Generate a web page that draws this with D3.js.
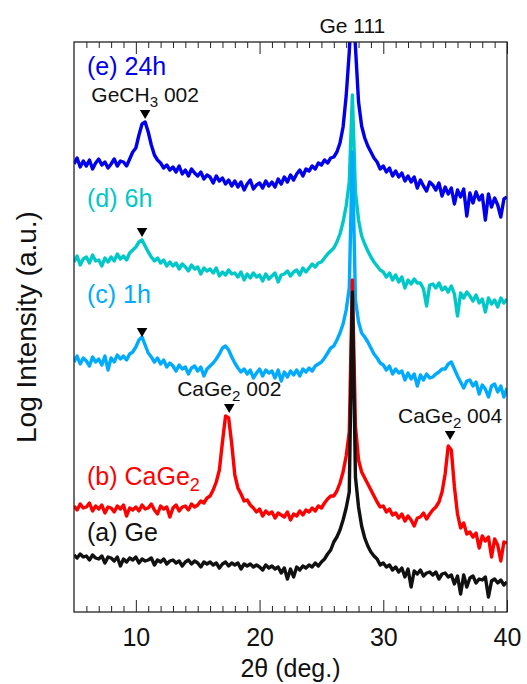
<!DOCTYPE html>
<html>
<head>
<meta charset="utf-8">
<script src="https://cdn.jsdelivr.net/npm/d3@7"></script>
<style>
    body { margin: 0; background: #fff; }
    svg { font-family: 'Liberation Sans', Arial, sans-serif; }
    text { white-space: pre; }
</style>
</head>
<body>
<div id="chart"></div>
<script>
// Data
// 2theta grid, 5-40 deg in 0.25 deg steps
const twoTheta = d3.range(5, 40.001, 0.25)

// log intensity (a.u., traces offset), one value per grid point
const ge = [
    5.7, 5.4, 5.8, 5.5, 5.6, 5.2, 5.7, 5.4, 5.3, 5.6, 4.9, 5.5, 5.4, 5.1, 5.5, 4.6,
    5.3, 5.0, 5.4, 5.2, 5.5, 4.9, 5.3, 5.1, 5.2, 5.4, 4.7, 5.2, 5.0, 5.3, 4.8, 5.1,
    5.2, 4.9, 5.1, 4.6, 5.0, 5.2, 4.8, 5.1, 4.9, 4.5, 5.0, 4.8, 5.0, 4.7, 4.9, 4.4,
    4.8, 5.0, 4.6, 4.9, 4.7, 4.9, 4.3, 4.8, 4.6, 4.8, 4.5, 4.7, 4.5, 4.2, 4.7, 4.4,
    4.6, 4.3, 4.5, 3.9, 4.4, 3.3, 4.3, 3.5, 4.5, 4.2, 4.6, 4.4, 4.7, 4.5, 4.9, 4.6,
    5.0, 5.3, 5.8, 6.2, 7.0, 7.5, 8.2, 9.2, 10.4, 12.0, 32.0, 13.5, 10.5, 8.6, 7.4, 6.6,
    6.0, 5.6, 5.3, 4.7, 4.9, 4.5, 4.7, 4.2, 4.5, 4.0, 4.4, 3.5, 4.3, 2.5, 4.1, 3.8,
    4.2, 3.6, 3.9, 4.0, 3.7, 4.0, 3.3, 3.8, 3.9, 3.5, 3.7, 2.8, 3.6, 1.8, 3.7, 2.5,
    3.4, 3.6, 2.9, 3.3, 3.2, 3.5, 1.5, 3.1, 3.3, 2.9, 3.2, 2.7, 3.0
]
const caGe2 = [
    10.6, 10.2, 10.8, 10.4, 10.5, 10.9, 10.1, 10.6, 10.3, 10.7, 9.9, 10.5, 10.4, 10.0, 10.6, 10.3,
    10.7, 9.6, 10.4, 10.2, 10.5, 10.1, 10.7, 10.3, 10.4, 10.8, 10.2, 9.8, 10.6, 10.3, 10.5, 9.5,
    10.4, 10.7, 10.1, 10.5, 10.6, 10.2, 10.8, 10.5, 10.7, 11.1, 10.9, 11.4, 11.6, 12.2, 13.0, 14.2,
    17.0, 19.6, 19.4, 16.8, 13.7, 12.4, 11.8, 11.1, 11.2, 10.7, 10.4, 10.0, 10.3, 9.6, 10.1, 9.8,
    10.0, 9.4, 9.9, 9.7, 9.5, 10.0, 9.2, 9.8, 9.6, 10.1, 9.7, 10.2, 10.0, 10.4, 10.1, 10.6,
    10.4, 10.9, 11.3, 11.6, 11.6, 12.1, 12.9, 14.0, 15.6, 18.0, 33.2, 18.6, 15.2, 14.0, 13.4, 12.8,
    12.2, 11.6, 11.0, 10.5, 10.6, 10.0, 10.3, 9.7, 9.9, 9.4, 9.8, 9.1, 9.6, 9.2, 8.6, 9.4,
    9.5, 9.9, 9.3, 9.8, 10.2, 10.5, 11.0, 12.0, 13.8, 16.6, 16.2, 12.5, 9.8, 8.4, 8.9, 7.8,
    8.0, 7.5, 7.9, 6.4, 7.6, 7.1, 7.5, 5.5, 7.3, 6.7, 5.1, 7.0, 6.9
]
const h1 = [
    25.0, 25.6, 24.8, 25.4, 25.1, 24.6, 25.5, 25.0, 25.3, 24.7, 25.6, 24.2, 25.4, 25.0, 25.7, 25.3,
    25.6, 25.2, 25.8, 26.0, 26.5, 27.2, 27.5, 26.7, 25.9, 25.5, 25.0, 25.4, 24.8, 25.2, 24.5, 24.9,
    24.6, 24.1, 24.7, 24.3, 24.5, 23.8, 24.4, 24.6, 24.1, 24.5, 23.6, 24.3, 24.6, 24.9, 25.3, 25.8,
    26.4, 26.6, 26.2, 25.5, 24.9, 24.4, 24.0, 24.3, 23.8, 24.2, 23.4, 23.9, 24.3, 23.6, 24.2, 23.9,
    24.1, 23.4, 24.2, 23.1, 24.0, 23.5, 24.1, 23.7, 24.2, 23.6, 24.3, 24.0, 24.4, 24.1, 24.6, 24.8,
    25.0, 25.4, 25.9, 26.4, 26.6, 27.2, 27.9, 28.8, 30.2, 32.4, 46.0, 31.2, 29.0, 27.9, 27.5, 27.0,
    26.4, 25.8, 25.4, 24.9, 24.7, 24.2, 24.6, 23.8, 24.3, 23.9, 24.1, 23.2, 23.9, 23.3, 23.8, 22.6,
    23.7, 23.2, 23.8, 23.4, 23.5, 23.8, 24.0, 24.3, 24.3, 24.8, 25.0, 24.3, 23.6, 23.0, 22.4, 23.1,
    23.2, 22.6, 23.0, 21.8, 22.7, 22.3, 21.5, 22.6, 22.8, 22.0, 22.6, 21.5, 22.4
]
const h6 = [
    35.0, 35.6, 34.7, 35.3, 35.5, 34.9, 35.7, 35.1, 35.2, 34.6, 35.4, 35.0, 35.5, 35.1, 35.8, 35.3,
    35.6, 35.2, 35.9, 36.2, 36.5, 37.0, 37.2, 36.6, 36.0, 35.5, 35.1, 35.4, 34.9, 35.2, 34.6, 35.0,
    34.6, 34.9, 34.3, 34.8, 34.5, 34.1, 34.7, 34.3, 34.5, 33.8, 34.4, 34.1, 34.3, 33.9, 34.4, 33.6,
    34.0, 33.7, 34.2, 33.8, 33.9, 33.5, 34.0, 33.2, 33.8, 33.4, 33.9, 33.5, 33.7, 33.1, 33.8, 33.3,
    33.6, 33.9, 33.0, 33.7, 33.8, 34.1, 33.6, 34.0, 34.2, 33.7, 34.4, 34.0, 34.4, 34.8, 34.5, 34.9,
    35.0, 35.4, 35.8, 36.1, 36.4, 37.0, 37.8, 39.0, 40.6, 43.0, 51.7, 42.0, 39.2, 37.6, 36.8, 36.1,
    35.5, 35.0, 34.6, 34.2, 34.0, 33.5, 33.9, 33.2, 33.7, 33.0, 33.5, 32.4, 33.2, 32.8, 33.3, 32.9,
    32.9, 32.3, 30.6, 32.7, 32.8, 32.4, 32.9, 32.2, 32.5, 32.0, 32.6, 31.8, 29.6, 31.9, 31.4, 32.0,
    31.6, 31.1, 31.7, 30.9, 31.3, 30.0, 31.4, 30.8, 31.2, 30.5, 31.4, 30.9, 31.3
]
const h24 = [
    44.8, 45.4, 44.5, 45.1, 44.6, 45.2, 44.3, 44.9, 45.3, 44.7, 45.0, 44.4, 44.8, 45.3, 44.6, 45.1,
    45.0, 44.6, 45.3, 46.0, 46.4, 47.7, 48.8, 49.0, 48.0, 46.7, 45.7, 45.2, 44.9, 44.4, 44.7, 44.2,
    44.5, 44.0, 44.6, 43.8, 44.2, 43.6, 44.3, 43.9, 43.6, 44.0, 43.3, 43.7, 43.5, 42.9, 43.6, 43.1,
    43.4, 42.8, 43.2, 42.6, 43.1, 42.5, 43.0, 42.2, 42.8, 43.2, 42.3, 42.7, 42.9, 42.4, 43.1, 42.6,
    43.0, 42.5, 43.3, 42.8, 43.5, 43.0, 43.7, 43.2, 43.8, 44.2, 43.6, 44.3, 44.1, 44.6, 44.3, 44.9,
    44.7, 45.2, 44.9, 45.4, 45.5, 46.0, 46.9, 48.5, 51.6, 56.0, 62.0, 56.5, 51.0, 48.6, 47.4, 46.6,
    46.0, 45.4, 45.0, 44.3, 44.6, 44.0, 44.4, 43.6, 44.1, 43.5, 43.9, 43.1, 43.6, 43.0, 43.5, 42.4,
    43.2, 42.6, 42.1, 43.0, 42.7, 42.2, 42.9, 41.6, 42.5, 41.8, 42.4, 40.8, 42.2, 41.5, 42.3, 39.6,
    41.9, 40.9, 42.0, 41.2, 41.7, 39.2, 41.8, 40.5, 41.4, 40.7, 39.5, 41.3, 41.5
]

const seriesLabels = ['(a) Ge', '(b) CaGe_2', '(c) 1h', '(d) 6h', '(e) 24h']

// reflection markers (2theta, level in a.u.) and their labels
const markerAngles = [10.75, 10.5, 10.5, 17.55, 35.4]
const markerLevels = [49.9, 38.1, 28.1, 20.5, 17.8]
const markerLabels = ['GeCH_3 002', '', '', 'CaGe_2 002', 'CaGe_2 004']
const refLabel = 'Ge 111'
const refAngle = 27.5

const xTicks = [10, 20, 30, 40]
const xMinorTicks = d3.range(6, 40).filter(d => d % 10 !== 0)

// writes "CaGe_2 002" as CaGe + subscript 2 + " 002"
function richText(sel, str, size) {
    const parts = str.split(/_(\d)/)
    parts.forEach((p, i) => {
        if (i % 2 === 1) {
            sel.append('tspan').attr('font-size', size * 0.72).attr('dy', size * 0.24).text(p)
        } else if (p.length) {
            const t = sel.append('tspan').text(p)
            if (i > 0) t.attr('dy', -size * 0.24)
        }
    })
}

function draw() {
    // Dimension
    let dimension = {
        width: 527,
        height: 684,
        margin: { top: 42, bottom: 72, left: 74, right: 20 }
    }
    dimension.ctrwidth = dimension.width - dimension.margin.left - dimension.margin.right
    dimension.ctrheight = dimension.height - dimension.margin.top - dimension.margin.bottom

    const svg = d3.select('#chart')
        .append('svg')
        .attr('width', dimension.width)
        .attr('height', dimension.height)

    const ctr = svg.append('g')
        .attr('transform', `translate(${dimension.margin.left}, ${dimension.margin.top})`)

    // Scales
    const xScale = d3.scaleLinear()
        .domain([5, 40])
        .range([0, dimension.ctrwidth])

    const yScale = d3.scaleLinear()
        .domain([0, 57])
        .range([dimension.ctrheight, 0])

    svg.append('defs').append('clipPath')
        .attr('id', 'plot-clip')
        .append('rect')
        .attr('width', dimension.ctrwidth)
        .attr('height', dimension.ctrheight)

    // Traces, top one drawn first so lower traces sit over the Ge 111 peaks
    const series = [
        { label: seriesLabels[0], values: ge, color: '#111111', level: 7.1 },
        { label: seriesLabels[1], values: caGe2, color: '#ff0000', level: 12.7 },
        { label: seriesLabels[2], values: h1, color: '#00aaff', level: 30.9 },
        { label: seriesLabels[3], values: h6, color: '#00c8c8', level: 40.5 },
        { label: seriesLabels[4], values: h24, color: '#0000ee', level: 53.7 }
    ]

    const line = d3.line()
        .x((d, i) => xScale(twoTheta[i]))
        .y(d => yScale(d))

    ctr.append('g')
        .attr('clip-path', 'url(#plot-clip)')
        .selectAll('path')
        .data(series.slice().reverse())
        .join('path')
        .attr('d', d => line(d.values))
        .attr('fill', 'none')
        .attr('stroke', d => d.color)
        .attr('stroke-width', 3.4)
        .attr('stroke-linejoin', 'round')

    // Series labels
    series.forEach(s => {
        const t = ctr.append('text')
            .attr('x', 13)
            .attr('y', yScale(s.level))
            .attr('fill', s.color)
            .attr('font-size', 25)
        richText(t, s.label, 25)
    })

    // Reflection markers
    const triangle = d3.symbol().type(d3.symbolTriangle).size(48)
    markerAngles.forEach((a, i) => {
        const x = xScale(a)
        const y = yScale(markerLevels[i])
        ctr.append('path')
            .attr('d', triangle())
            .attr('transform', `translate(${x}, ${y}) rotate(180)`)
            .attr('fill', '#000')
        if (markerLabels[i]) {
            const t = ctr.append('text')
                .attr('x', x)
                .attr('y', y - 11.5)
                .attr('text-anchor', 'middle')
                .attr('font-size', 21)
                .attr('fill', '#111')
            richText(t, markerLabels[i], 21)
        }
    })

    ctr.append('text')
        .attr('x', xScale(refAngle))
        .attr('y', -9)
        .attr('text-anchor', 'middle')
        .attr('font-size', 21)
        .attr('fill', '#111')
        .text(refLabel)

    // Axes
    const axisStyle = g => {
        g.select('.domain').remove()
        g.selectAll('line').attr('stroke', '#222').attr('stroke-width', 1)
    }

    ctr.append('g')
        .attr('transform', `translate(0, ${dimension.ctrheight})`)
        .call(d3.axisBottom(xScale).tickValues(xMinorTicks).tickSize(-6).tickFormat(''))
        .call(axisStyle)

    const xAxisGroup = ctr.append('g')
        .attr('transform', `translate(0, ${dimension.ctrheight})`)
        .call(d3.axisBottom(xScale).tickValues(xTicks).tickSize(-12).tickPadding(16))
        .call(axisStyle)

    xAxisGroup.selectAll('text')
        .attr('font-size', 25)
        .attr('font-family', "'Liberation Sans', Arial, sans-serif")
        .attr('fill', '#111')

    ctr.append('g')
        .call(d3.axisTop(xScale).tickValues(xMinorTicks).tickSize(-6).tickFormat(''))
        .call(axisStyle)

    ctr.append('g')
        .call(d3.axisTop(xScale).tickValues(xTicks).tickSize(-12).tickFormat(''))
        .call(axisStyle)

    ctr.append('rect')
        .attr('width', dimension.ctrwidth)
        .attr('height', dimension.ctrheight)
        .attr('fill', 'none')
        .attr('stroke', '#222')
        .attr('stroke-width', 1.3)

    svg.append('text')
        .attr('x', dimension.margin.left + dimension.ctrwidth / 2)
        .attr('y', 677)
        .attr('text-anchor', 'middle')
        .attr('font-size', 25)
        .attr('fill', '#111')
        .text('2θ (deg.)')

    svg.append('text')
        .attr('transform', `translate(36, ${dimension.margin.top + dimension.ctrheight / 2}) rotate(-90)`)
        .attr('text-anchor', 'middle')
        .attr('font-size', 28)
        .attr('fill', '#111')
        .text('Log Intensity (a.u.)')
}

draw()
</script>
</body>
</html>
